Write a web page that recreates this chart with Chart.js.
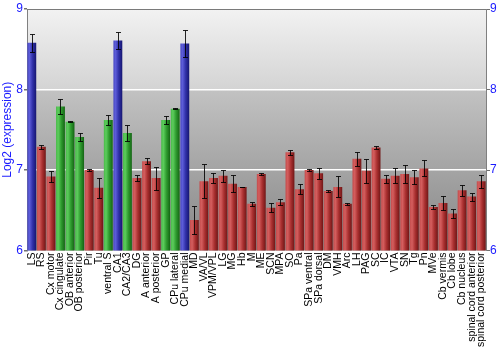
<!DOCTYPE html>
<html><head><meta charset="utf-8">
<script src="https://cdn.jsdelivr.net/npm/chart.js@4.4.0/dist/chart.umd.min.js"></script>
<style>html,body{margin:0;padding:0;background:#fff;}</style>
</head><body>
<canvas id="c" width="500" height="350" style="width:500px;height:350px;display:block"></canvas>
<script>
const regions = ['LS','RS','Cx motor','Cx cingulate','OB anterior','OB posterior','Pir','Tu','ventral S','CA1','CA2/CA3','DG','A anterior','A posterior','GP','CPu lateral','CPu medial','MD','VA/VL','VPM/VPL','LG','MG','Hb','M','ME','SCN','MPA','SO','Pa','SPa ventral','SPa dorsal','DM','VMH','Arc','LH','PAG','SC','IC','VTA','SN','Tg','Pn','MVe','Cb vermis','Cb lobe','Cb nucleus','spinal cord anterior','spinal cord posterior'];
const expression = [8.58,7.29,6.92,7.79,7.60,7.41,7.00,6.78,7.62,8.61,7.46,6.90,7.11,6.90,7.62,7.76,8.57,6.38,6.86,6.90,6.93,6.83,6.79,6.58,6.95,6.53,6.60,7.22,6.76,7.00,6.96,6.74,6.79,6.58,7.14,6.99,7.28,6.89,6.93,6.95,6.91,7.02,6.54,6.59,6.46,6.75,6.67,6.86];
const errors = [0.115,0.025,0.064,0.091,0.005,0.044,0.008,0.124,0.06,0.104,0.104,0.04,0.033,0.143,0.046,0.005,0.164,0.172,0.213,0.058,0.075,0.104,0.004,0.027,0.01,0.056,0.035,0.029,0.064,0.01,0.068,0.01,0.13,0.01,0.085,0.151,0.02,0.054,0.089,0.106,0.089,0.1,0.025,0.083,0.06,0.068,0.05,0.081];
const yTicks = [6,7,8,9];

const BAR_PCT = 0.93;
const palettes = {
  blue:  ['#4a4ac4','#5c5cd8','#3030a8','#161670'],
  green: ['#4aba4a','#5ccc5c','#2e9a2e','#146414'],
  red:   ['#c44c4c','#d45e5e','#aa3030','#701616']
};
function classOf(v){ return v >= 8 ? 'blue' : (v >= 7.35 ? 'green' : 'red'); }

function barFill(ctx){
  const chart = ctx.chart, xs = chart.scales.x;
  const p = palettes[classOf(expression[ctx.dataIndex])];
  if (!xs || !isFinite(xs.width) || xs.width <= 0) return p[2];
  const cx = xs.getPixelForValue(ctx.dataIndex);
  const w = xs.width / regions.length * BAR_PCT;
  const g = chart.ctx.createLinearGradient(cx - w/2, 0, cx + w/2, 0);
  g.addColorStop(0, p[0]);
  g.addColorStop(0.25, p[1]);
  g.addColorStop(0.6, p[2]);
  g.addColorStop(1, p[3]);
  return g;
}

const bgPlugin = {
  id: 'bg',
  beforeDraw(chart){
    const a = chart.chartArea, c = chart.ctx;
    const g = c.createLinearGradient(0, a.top, 0, a.bottom);
    g.addColorStop(0, '#f2f2f2');
    g.addColorStop(0.33, '#d4d4d4');
    g.addColorStop(0.335, '#c2c2c2');
    g.addColorStop(1, '#868686');
    c.save(); c.fillStyle = g; c.fillRect(a.left, a.top, a.right - a.left, a.bottom - a.top); c.restore();
  },
  afterDatasetsDraw(chart){
    const a = chart.chartArea, c = chart.ctx;
    const meta = chart.getDatasetMeta(0), ys = chart.scales.y;
    c.save();
    c.strokeStyle = 'rgba(0,0,0,0.85)';
    c.lineWidth = 1;
    meta.data.forEach((el, i) => {
      const x = Math.round(el.x) + 0.5;
      const yt = Math.round(ys.getPixelForValue(expression[i] + errors[i])) + 0.5;
      const yb = Math.round(ys.getPixelForValue(expression[i] - errors[i])) + 0.5;
      c.beginPath();
      c.moveTo(x, yt); c.lineTo(x, yb);
      c.moveTo(x - 2.5, yt); c.lineTo(x + 2.5, yt);
      c.moveTo(x - 2.5, yb); c.lineTo(x + 2.5, yb);
      c.stroke();
    });
    c.strokeStyle = '#7a7a7a';
    c.beginPath();
    c.moveTo(a.left, Math.round(a.top) + 0.5); c.lineTo(a.right, Math.round(a.top) + 0.5);
    c.stroke();
    c.restore();
  }
};

const tickFont = { family: 'Liberation Sans, Arial, sans-serif', size: 12 };
new Chart(document.getElementById('c'), {
  type: 'bar',
  data: {
    labels: regions,
    datasets: [{
      data: expression,
      backgroundColor: barFill,
      borderWidth: 0,
      barPercentage: BAR_PCT,
      categoryPercentage: 1
    }]
  },
  options: {
    responsive: false,
    animation: false,
    layout: { padding: { top: 9, right: 0, left: 0, bottom: 0 } },
    plugins: { legend: { display: false }, tooltip: { enabled: false } },
    scales: {
      x: {
        offset: true,
        grid: { display: false, drawTicks: false },
        border: { display: false },
        ticks: {
          autoSkip: false, minRotation: 90, maxRotation: 90, padding: 2,
          color: '#000', font: { family: 'Liberation Sans, Arial, sans-serif', size: 10.5 }
        },
        afterFit(s){ s.height = 99.5; }
      },
      y: {
        position: 'left', min: 6, max: 9,
        afterBuildTicks(s){ s.ticks = yTicks.map(v => ({ value: v })); },
        grid: {
          color: c => (c.tick && (c.tick.value === 7 || c.tick.value === 8)) ? '#ffffff' : 'rgba(0,0,0,0)',
          tickColor: '#707070', tickLength: 3, lineWidth: 1.5
        },
        border: { display: true, color: '#808080' },
        ticks: { color: '#1a1aff', font: tickFont, padding: 1 },
        title: { display: true, text: 'Log2 (expression)', color: '#1a1aff', font: { family: 'Liberation Sans, Arial, sans-serif', size: 12 }, padding: { top: 0, bottom: 0 } },
        afterFit(s){ s.width = 27; }
      },
      y2: {
        position: 'right', min: 6, max: 9,
        afterBuildTicks(s){ s.ticks = yTicks.map(v => ({ value: v })); },
        grid: { drawOnChartArea: false, tickColor: '#707070', tickLength: 4 },
        border: { display: true, color: '#808080' },
        ticks: { color: '#1a1aff', font: tickFont, padding: 0 },
        afterFit(s){ s.width = 14; }
      }
    }
  },
  plugins: [bgPlugin]
});
</script>
</body></html>
